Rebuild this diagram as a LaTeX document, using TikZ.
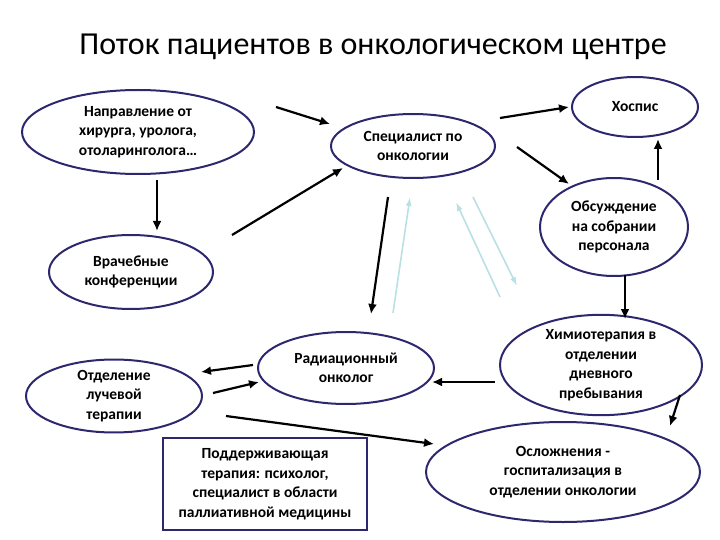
\documentclass[tikz,border=0pt]{standalone}
\usepackage{fontspec}
\setmainfont{Carlito}
\usetikzlibrary{arrows.meta,shapes.geometric}
\definecolor{navy}{RGB}{45,40,110}
\definecolor{lblue}{RGB}{185,224,228}
\begin{document}
\begin{tikzpicture}[x=1pt,y=-1pt,
  ell/.style={draw=navy,line width=2pt,ellipse,inner sep=0pt,align=center,
    font=\bfseries\fontsize{15.5}{19.5}\selectfont},
  sbox/.style={draw=navy,line width=2pt,rectangle,inner sep=0pt,align=center,
    font=\bfseries\fontsize{15.5}{19.5}\selectfont},
  flow/.style={line width=2.2pt,-{Latex[length=10pt,width=9pt]}},
  back/.style={draw=lblue,line width=1.6pt,-{Latex[length=9pt,width=6pt]}}]
\useasboundingbox (0,0) rectangle (720,540);
\node[font=\fontsize{32}{36}\selectfont] (title) at (373,47) {Поток пациентов в онкологическом центре};

\node[ell,minimum width=232pt,minimum height=84pt] (napr) at (138,132) {Направление от\\хирурга, уролога,\\отоларинголога…};
\node[ell,minimum width=164pt,minimum height=74pt] (vrach) at (131,272) {Врачебные\\конференции};
\node[ell,minimum width=164pt,minimum height=64pt] (spec) at (413,146) {Специалист по\\онкологии};
\node[ell,minimum width=126pt,minimum height=60pt] (hosp) at (635,107) {Хоспис};
\node[ell,minimum width=148pt,minimum height=98pt] (obs) at (614,227) {Обсуждение\\на собрании\\персонала};
\node[ell,minimum width=176pt,minimum height=72pt] (rad) at (346,368) {Радиационный\\онколог};
\node[ell,minimum width=176pt,minimum height=72pt] (otd) at (114,396) {Отделение\\лучевой\\терапии};
\node[sbox,minimum width=204pt,minimum height=92pt] (podd) at (265,484) {Поддерживающая\\терапия: психолог,\\специалист в области\\паллиативной медицины};
\node[ell,minimum width=202pt,minimum height=90pt] (chem) at (601,365) {Химиотерапия в\\отделении\\дневного\\пребывания};
\node[ell,minimum width=274pt,minimum height=100pt] (osl) at (563,472) {Осложнения -\\госпитализация в\\отделении онкологии};

% free connector ends
\coordinate (p1s) at (276,107); \coordinate (p1e) at (330,124);
\coordinate (p2s) at (157,180); \coordinate (p2e) at (157,231);
\coordinate (p3s) at (232,235); \coordinate (p3e) at (343,168);
\coordinate (p4s) at (500,118); \coordinate (p4e) at (569,107);
\coordinate (p5s) at (517,147); \coordinate (p5e) at (569,184);
\coordinate (p6s) at (658,180); \coordinate (p6e) at (658,139);
\coordinate (p7s) at (625,275); \coordinate (p7e) at (625,319);
\coordinate (p8s) at (495,382); \coordinate (p8e) at (432,382);
\coordinate (p9s) at (680,395); \coordinate (p9e) at (670,426);
\coordinate (p10s) at (253,365); \coordinate (p10e) at (201,372);
\coordinate (p11s) at (213,393); \coordinate (p11e) at (259,382);
\coordinate (p12s) at (226,416); \coordinate (p12e) at (434,444);
\coordinate (p13s) at (388,197); \coordinate (p13e) at (371,314);
\coordinate (q1s) at (393,313); \coordinate (q1e) at (410,197);
\coordinate (q2s) at (500,297); \coordinate (q2e) at (456,202);
\coordinate (q3s) at (473,197); \coordinate (q3e) at (517,286);

\draw[flow] (p1s) -- (p1e);
\draw[flow] (p2s) -- (p2e);
\draw[flow] (p3s) -- (p3e);
\draw[flow] (p4s) -- (p4e);
\draw[flow] (p5s) -- (p5e);
\draw[flow] (p6s) -- (p6e);
\draw[flow] (p7s) -- (p7e);
\draw[flow] (p8s) -- (p8e);
\draw[flow] (p9s) -- (p9e);
\draw[flow] (p10s) -- (p10e);
\draw[flow] (p11s) -- (p11e);
\draw[flow] (p12s) -- (p12e);
\draw[flow] (p13s) -- (p13e);
\draw[back] (q1s) -- (q1e);
\draw[back] (q2s) -- (q2e);
\draw[back] (q3s) -- (q3e);
\end{tikzpicture}
\end{document}
